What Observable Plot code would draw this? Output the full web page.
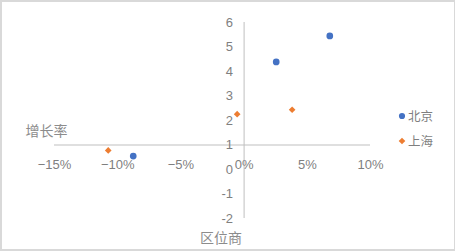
<!DOCTYPE html>
<html>
<head>
<meta charset="utf-8">
<script src="https://cdn.jsdelivr.net/npm/d3@7"></script>
<script src="https://cdn.jsdelivr.net/npm/@observablehq/plot@0.6"></script>
<style>
  body { margin: 0; background: #fff; }
  #wrap { position: relative; width: 456px; height: 251px; }
  #wrap svg { display: block; }
  #frame { position: absolute; left: 0; top: 0; width: 452px; height: 247px; border: 2px solid #d9d9d9; border-right-width: 1px; pointer-events: none; }
  #legend { position: absolute; left: 397px; top: 103px; font-family: "Noto Sans CJK SC", sans-serif; font-size: 12.5px; color: #7f7f7f; }
  #legend .row { display: flex; align-items: center; height: 25px; }
  #legend svg { margin-right: 1px; }
</style>
</head>
<body>
<div id="wrap"><div id="frame"></div><div id="legend"></div></div>
<script>
const series = ["北京", "上海"];
const seriesColors = ["#4472C4", "#ED7D31"];
const seriesSymbols = ["circle", "diamond2"];
const beijingX = [-0.0877, 0.0254, 0.0678];
const beijingY = [0.55, 4.39, 5.45];
const shanghaiX = [-0.1075, -0.0055, 0.038];
const shanghaiY = [0.78, 2.26, 2.44];
const xTicks = [-0.15, -0.10, -0.05, 0, 0.05, 0.10];
const yTicks = [-2, -1, 0, 1, 2, 3, 4, 5, 6];
const xTitle = "区位商";
const yTitle = "增长率";

const points = [
  ...beijingX.map((x, i) => ({series: series[0], x, y: beijingY[i]})),
  ...shanghaiX.map((x, i) => ({series: series[1], x, y: shanghaiY[i]}))
];

const gray = "#7f7f7f";
const font = "'Liberation Sans', Arial, sans-serif";
const cjk = "'Noto Sans CJK SC', sans-serif";

const chart = Plot.plot({
  width: 456,
  height: 251,
  marginLeft: 54,
  marginRight: 86,
  marginTop: 22,
  marginBottom: 33,
  x: {domain: [-0.15, 0.10], axis: null},
  y: {domain: [-2, 6], axis: null},
  color: {domain: series, range: seriesColors},
  symbol: {domain: series, range: seriesSymbols},
  style: {fontFamily: font, background: "transparent"},
  marks: [
    Plot.ruleY([1], {x1: -0.15, x2: 0.10, stroke: "#bfbfbf", strokeWidth: 1}),
    Plot.ruleX([0], {y1: -2, y2: 6, stroke: "#bfbfbf", strokeWidth: 1}),
    Plot.text(xTicks, {x: d => d, y: () => 1, dy: 20, text: d => d3.format(".0%")(d), fill: gray, fontSize: 13}),
    Plot.text(yTicks, {x: () => 0, y: d => d, dx: -11, textAnchor: "end", text: d => String(d), fill: gray, fontSize: 13}),
    Plot.text([yTitle], {x: () => -0.15, y: () => 1, dx: -29, dy: -13, textAnchor: "start", fill: "#8c8c8c", fontSize: 14, fontFamily: cjk}),
    Plot.text([xTitle], {x: () => 0, y: () => -2, dx: -23, dy: 20, fill: "#8c8c8c", fontSize: 14, fontFamily: cjk}),
    Plot.dot(points, {x: "x", y: "y", fill: "series", symbol: "series", r: d => d.series === series[0] ? 4 : 3.2, stroke: "none"})
  ]
});
document.getElementById("wrap").prepend(chart);

const legend = document.getElementById("legend");
series.forEach((s, i) => {
  const row = document.createElement("div");
  row.className = "row";
  const sym = d3.symbol(i === 0 ? d3.symbolCircle : d3.symbolDiamond2, i === 0 ? 30 : 28)();
  row.innerHTML = `<svg width="10" height="10" viewBox="-5 -5 10 10"><path d="${sym}" fill="${seriesColors[i]}"/></svg><span>${s}</span>`;
  legend.appendChild(row);
});
</script>
</body>
</html>
